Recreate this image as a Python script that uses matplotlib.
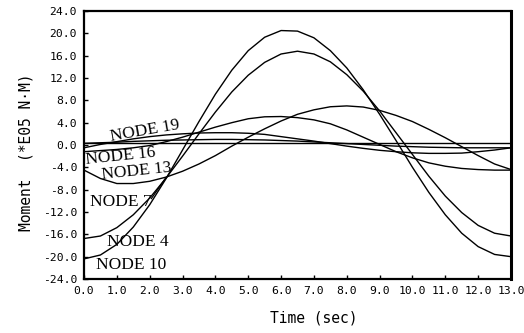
import matplotlib
matplotlib.use("Agg")
import matplotlib.pyplot as plt
import numpy as np

time_s = [0.0, 0.5, 1.0, 1.5, 2.0, 2.5, 3.0, 3.5, 4.0, 4.5, 5.0, 5.5, 6.0, 6.5,
          7.0, 7.5, 8.0, 8.5, 9.0, 9.5, 10.0, 10.5, 11.0, 11.5, 12.0, 12.5, 13.0]

node10 = [-20.4, -19.7, -17.8, -14.7, -10.7, -6.0, -0.9, 4.2, 9.1, 13.4, 16.9, 19.3, 20.5, 20.4,
          19.2, 16.9, 13.8, 9.9, 5.5, 0.8, -4.0, -8.5, -12.5, -15.8, -18.2, -19.6, -20.0]
node4 = [-16.75, -16.3, -14.8, -12.5, -9.5, -5.9, -2.0, 2.0, 5.9, 9.5, 12.5, 14.8, 16.3, 16.8,
         16.3, 14.9, 12.6, 9.65, 6.1, 2.2, -1.7, -5.6, -9.15, -12.1, -14.4, -15.8, -16.3]
node7 = [-4.5, -6.0, -6.9, -6.9, -6.5, -5.75, -4.7, -3.4, -1.9, -0.2, 1.4, 2.9, 4.3, 5.5,
         6.3, 6.85, 7.0, 6.8, 6.2, 5.3, 4.2, 2.8, 1.3, -0.3, -1.9, -3.4, -4.4]
node13 = [-1.2, -1.0, -0.8, -0.5, -0.1, 0.6, 1.4, 2.3, 3.2, 4.0, 4.7, 5.05, 5.1, 4.9,
          4.5, 3.8, 2.7, 1.4, 0.1, -1.2, -2.3, -3.2, -3.8, -4.2, -4.4, -4.5, -4.5]
node16 = [-0.5, 0.1, 0.6, 1.1, 1.5, 1.8, 2.0, 2.15, 2.2, 2.2, 2.1, 1.9, 1.5, 1.1,
          0.7, 0.25, -0.2, -0.6, -0.95, -1.2, -1.4, -1.5, -1.5, -1.45, -1.2, -0.9, -0.5]
node19 = [0.3, 0.4, 0.5, 0.65, 0.75, 0.85, 0.9, 0.95, 1.0, 1.0, 0.95, 0.9, 0.8, 0.7,
          0.55, 0.4, 0.25, 0.1, -0.05, -0.2, -0.3, -0.4, -0.45, -0.5, -0.5, -0.5, -0.5]
baseline = 0.3

series = [node10, node4, node7, node13, node16, node19]
labels = ["NODE 19", "NODE 16", "NODE 13", "NODE 7", "NODE 4", "NODE 10"]
label_t = [1.86, 1.1, 1.6, 1.13, 1.64, 1.43]
label_v = [2.5, -2.1, -4.8, -10.2, -17.4, -21.5]
label_rot = [10, 6, 6, 0, 0, 0]

# leader line for NODE 7 label (from label to its curve)
leader7_t = [2.05, 2.5]
leader7_v = [-9.6, -5.8]

xticks = np.arange(0, 13.5, 1.0)
yticks = np.arange(-24, 24.5, 4.0)

W, H = 524, 333
fig = plt.figure(figsize=(W / 100, H / 100), dpi=100)
ax = fig.add_axes([84 / W, 1 - 279 / H, (511 - 84) / W, (279 - 11) / H])

for s in series:
    ax.plot(time_s, s, color="black", lw=1.0)
ax.axhline(baseline, color="black", lw=1.0)
ax.plot(leader7_t, leader7_v, color="black", lw=0.9)

for txt, tx, ty, r in zip(labels, label_t, label_v, label_rot):
    ax.text(tx, ty, txt, fontsize=12.5, family="Liberation Serif", ha="center",
            va="center", rotation=r, rotation_mode="anchor", color="black")

ax.set_xlim(0, 13)
ax.set_ylim(-24, 24)
ax.set_xticks(xticks)
ax.set_yticks(yticks)
ax.set_xticklabels([f"{v:.1f}" for v in xticks])
ax.set_yticklabels([f"{v:.1f}" for v in yticks])
ax.tick_params(direction="in", length=3, width=1, labelsize=8.2, pad=5,
               top=False, right=False)
for lab in ax.get_xticklabels() + ax.get_yticklabels():
    lab.set_family("DejaVu Sans Mono")
for side in ["left", "bottom", "top"]:
    ax.spines[side].set_linewidth(1.6)
ax.spines["right"].set_linewidth(2.2)

fig.text(314 / W, 1 - 318 / H, "Time (sec)", ha="center", va="center",
         fontsize=10.5, family="DejaVu Sans Mono")
fig.text(26 / W, 1 - 152 / H, "Moment  (*E05 N\u00b7M)", ha="center", va="center",
         rotation=90, fontsize=10.5, family="DejaVu Sans Mono")

fig.savefig("out.png", dpi=100)
